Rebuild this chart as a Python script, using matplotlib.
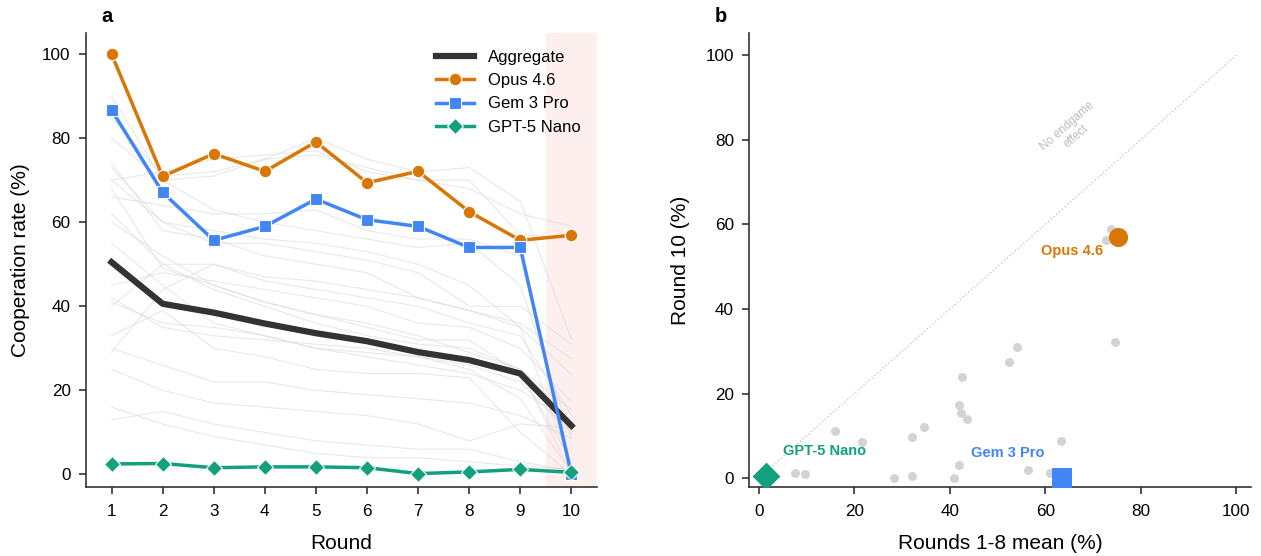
import matplotlib
matplotlib.use("Agg")
import matplotlib.pyplot as plt
import numpy as np

plt.rcParams['font.family'] = ['Liberation Sans', 'DejaVu Sans']

rounds = [1, 2, 3, 4, 5, 6, 7, 8, 9, 10]

aggregate = [50.5, 40.6, 38.5, 35.9, 33.6, 31.7, 29.1, 27.2, 24.0, 11.6]
opus = [100.0, 70.9, 76.3, 72.1, 79.1, 69.4, 72.1, 62.5, 55.7, 56.9]
gem = [86.7, 67.1, 55.7, 59.0, 65.5, 60.6, 59.0, 54.0, 54.0, 0.0]
nano = [2.5, 2.6, 1.6, 1.8, 1.8, 1.6, 0.2, 0.6, 1.2, 0.5]

# other models, rounds 1..10 (background lines)
others = [
    [16, 12, 9, 7, 5, 4, 4, 3, 2, 1.3],
    [13, 15, 12, 10, 8, 7, 6, 6, 3, 0.9],
    [25, 20, 17, 16, 15, 14, 12, 8, 12, 11.1],
    [30, 26, 22, 22, 20, 19, 18, 17, 14, 8.6],
    [33, 39, 30, 28, 25, 24, 24, 23, 10, 0.0],
    [42, 35, 33, 32, 31, 30, 28, 26, 22, 9.8],
    [41, 36, 35, 33, 30, 29, 28, 25, 18, 0.5],
    [55, 45, 36, 33, 30, 28, 26, 24, 20, 12.1],
    [62, 50, 44, 40, 36, 33, 31, 30, 25, 0.0],
    [60, 52, 45, 41, 38, 35, 32, 32, 24, 3.1],
    [45, 48, 46, 44, 42, 40, 36, 35, 30, 17.3],
    [68, 49, 45, 41, 38, 36, 33, 29, 25, 15.4],
    [40, 50, 50, 46, 44, 42, 40, 36, 33, 14.1],
    [29, 44, 50, 47, 46, 44, 42, 39, 35, 23.8],
    [74, 58, 56, 52, 50, 48, 42, 39, 36, 27.5],
    [70, 60, 55, 55, 53, 51, 48, 40, 40, 31.0],
    [73, 60, 58, 56, 55, 53, 50, 45, 35, 1.9],
    [66, 64, 62, 62, 63, 58, 56, 56, 52, 1.3],
    [90, 70, 63, 60, 58, 56, 54, 55, 45, 8.7],
    [70, 72, 75, 76, 77, 72, 70, 70, 57, 56.4],
    [85, 71, 72, 75, 76, 73, 70, 68, 62, 59.0],
    [80, 70, 71, 75, 80, 75, 72, 73, 65, 32.2],
]

# scatter: rounds 1-8 mean vs round 10
other_mean = [7.5, 9.6, 15.9, 21.7, 28.3, 32.1, 32.1, 34.6, 40.8, 41.9, 42.0,
              42.4, 43.5, 42.6, 52.4, 54.0, 56.3, 60.9, 63.3, 72.7, 73.8, 74.5]
other_r10 = [1.3, 0.9, 11.1, 8.6, 0.0, 9.8, 0.5, 12.1, 0.0, 3.1, 17.3,
             15.4, 14.1, 23.8, 27.5, 31.0, 1.9, 1.3, 8.7, 56.4, 59.0, 32.2]

labels = ["Opus 4.6", "Gem 3 Pro", "GPT-5 Nano"]
hl_mean = [75.2, 63.5, 1.6]
hl_r10 = [57.0, 0.0, 0.5]

C_AGG = '#333333'
C_OPUS = '#d97706'
C_GEM = '#4285f4'
C_NANO = '#13a07c'

fig = plt.figure(figsize=(12.61, 5.56), dpi=100)
ax1 = fig.add_axes([0.0682, 0.124, 0.4052, 0.8165])
ax2 = fig.add_axes([0.5942, 0.124, 0.3976, 0.8165])

TICK_FS = 12.3
LABEL_FS = 15

def style(ax):
    ax.tick_params(labelsize=TICK_FS, length=5, width=1.2, color='#333333')
    ax.tick_params(axis='x', pad=7)
    ax.tick_params(axis='y', pad=6)
    for s in ['top', 'right']:
        ax.spines[s].set_visible(False)
    for s in ['left', 'bottom']:
        ax.spines[s].set_linewidth(1.2)
        ax.spines[s].set_color('#333333')

# ---- panel a
ax1.axvspan(9.5, 10.5, color='#fdecea', alpha=0.8, lw=0, zorder=0)
for row in others:
    ax1.plot(rounds, row, color='#d9d9d9', lw=0.8, alpha=0.6, zorder=1)
ax1.plot(rounds, aggregate, color=C_AGG, lw=4.5, label='Aggregate', zorder=3)
ax1.plot(rounds, opus, color=C_OPUS, lw=2.5, marker='o', ms=9, mec='white', mew=0.8,
         label='Opus 4.6', zorder=4)
ax1.plot(rounds, gem, color=C_GEM, lw=2.5, marker='s', ms=9, mec='white', mew=0.8,
         label='Gem 3 Pro', zorder=4)
ax1.plot(rounds, nano, color=C_NANO, lw=2.5, marker='D', ms=8, mec='white', mew=0.8,
         label='GPT-5 Nano', zorder=4)
ax1.set_xlim(0.5, 10.5)
ax1.set_ylim(-3, 105)
ax1.set_xticks(rounds)
ax1.set_yticks([0, 20, 40, 60, 80, 100])
ax1.set_xlabel('Round', fontsize=LABEL_FS, labelpad=11)
ax1.set_ylabel('Cooperation rate (%)', fontsize=LABEL_FS, labelpad=9)
style(ax1)
leg = ax1.legend(loc='upper right', frameon=False, fontsize=12, handlelength=2.3,
                 borderaxespad=0.7, labelspacing=0.5, borderpad=0.3)

# ---- panel b
ax2.plot([0, 100], [0, 100], color='#c8c8c8', lw=1, ls=':', zorder=1)
ax2.text(65.5, 82, 'No endgame\neffect', color='#bdbdbd', fontsize=8.5, rotation=41.5,
         ha='center', va='center', rotation_mode='anchor')
ax2.scatter(other_mean, other_r10, s=42, color='#d3d3d3', lw=0, zorder=2)
ax2.scatter([hl_mean[0]], [hl_r10[0]], s=190, marker='o', color=C_OPUS, lw=0, zorder=3)
ax2.scatter([hl_mean[1]], [hl_r10[1]], s=190, marker='s', color=C_GEM, lw=0, zorder=3)
ax2.scatter([hl_mean[2]], [hl_r10[2]], s=200, marker='D', color=C_NANO, lw=0, zorder=3)
ax2.text(65.7, 53.7, labels[0], color=C_OPUS, fontsize=10.5, fontweight='bold',
         ha='center', va='center')
ax2.text(52.1, 5.9, labels[1], color=C_GEM, fontsize=10.5, fontweight='bold',
         ha='center', va='center')
ax2.text(13.8, 6.4, labels[2], color=C_NANO, fontsize=10.5, fontweight='bold',
         ha='center', va='center')
ax2.set_xlim(-2, 103)
ax2.set_ylim(-2.1, 105.2)
ax2.set_xticks([0, 20, 40, 60, 80, 100])
ax2.set_yticks([0, 20, 40, 60, 80, 100])
ax2.set_xlabel('Rounds 1-8 mean (%)', fontsize=LABEL_FS, labelpad=11)
ax2.set_ylabel('Round 10 (%)', fontsize=LABEL_FS, labelpad=11)
style(ax2)

fig.text(0.085, 0.970, 'a', fontsize=14.5, fontweight='bold', va='center', ha='center')
fig.text(0.572, 0.970, 'b', fontsize=14.5, fontweight='bold', va='center', ha='center')

fig.savefig('out.png', dpi=100)
